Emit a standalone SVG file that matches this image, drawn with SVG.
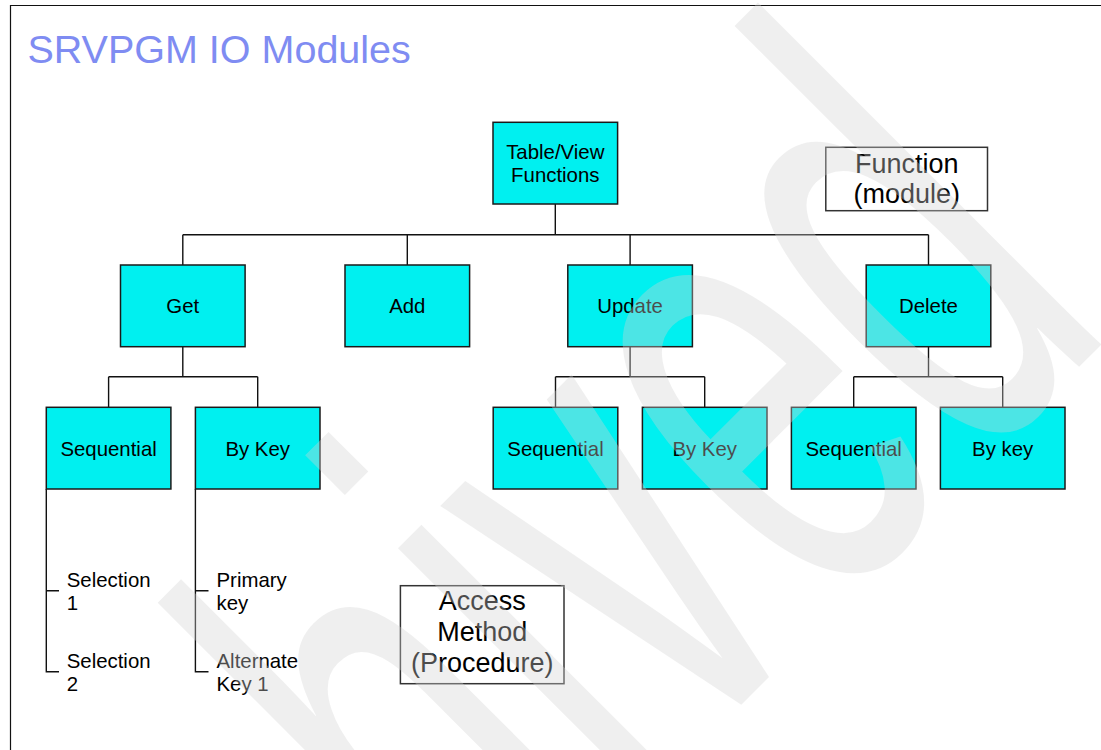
<svg xmlns="http://www.w3.org/2000/svg" width="1101" height="750" viewBox="0 0 1101 750">
<style>
text{font-family:"Liberation Sans",Arial,sans-serif;fill:#000}
.box{fill:#00f0f0;stroke:#1a1a1a;stroke-width:1.5}
.note{fill:#fff;stroke:#333;stroke-width:1.5}
.lbl{font-size:20.4px;text-anchor:middle}
.side{font-size:20.4px}
.big{font-size:27px;text-anchor:middle}
.conn{fill:none;stroke:#111;stroke-width:1.4}
.wm{font-size:669px;fill:#d4d4d4;fill-opacity:0.36}
</style>
<rect x="0" y="0" width="1101" height="750" fill="#fff"/>
<path d="M10.5,750 V5.5 H1101" fill="none" stroke="#111" stroke-width="1.2"/>
<text x="27.4" y="63.3" style="font-size:39.5px;fill:#7f8cf2">SRVPGM IO Modules</text>

<g id="connectors" class="conn">
<path d="M555.3,204 V234.7 M182.8,234.7 H928.5 M182.8,234.7 V265 M407.3,234.7 V265 M630.1,234.7 V265 M928.5,234.7 V265"/>
<path d="M182.8,346.7 V376.7 M108.6,376.7 H257.7 M108.6,376.7 V407.3 M257.7,376.7 V407.3"/>
<path d="M630.1,346.7 V376.7 M555.5,376.7 H704.7 M555.5,376.7 V407.3 M704.7,376.7 V407.3"/>
<path d="M928.5,346.7 V376.7 M853.7,376.7 H1002.7 M853.7,376.7 V407.3 M1002.7,376.7 V407.3"/>
<path d="M46.3,489 V671.7 H59 M46.3,590.7 H59"/>
<path d="M195.4,489 V671.7 H208.5 M195.4,590.7 H208.5"/>
</g>

<g id="table"><rect class="box" x="493" y="122.3" width="124.6" height="81.7"/><text class="lbl" x="555.3" y="159.3">Table/View</text><text class="lbl" x="555.3" y="181.7">Functions</text></g>
<g id="get"><rect class="box" x="120.5" y="265" width="124.6" height="81.7"/><text class="lbl" x="182.8" y="313.2">Get</text></g>
<g id="add"><rect class="box" x="345" y="265" width="124.6" height="81.7"/><text class="lbl" x="407.3" y="313.2">Add</text></g>
<g id="update"><rect class="box" x="567.8" y="265" width="124.6" height="81.7"/><text class="lbl" x="630.1" y="313.2">Update</text></g>
<g id="delete"><rect class="box" x="866.2" y="265" width="124.6" height="81.7"/><text class="lbl" x="928.5" y="313.2">Delete</text></g>
<g id="get-seq"><rect class="box" x="46.3" y="407.3" width="124.6" height="81.7"/><text class="lbl" x="108.6" y="455.5">Sequential</text></g>
<g id="get-bykey"><rect class="box" x="195.4" y="407.3" width="124.6" height="81.7"/><text class="lbl" x="257.7" y="455.5">By Key</text></g>
<g id="upd-seq"><rect class="box" x="493.2" y="407.3" width="124.6" height="81.7"/><text class="lbl" x="555.5" y="455.5">Sequential</text></g>
<g id="upd-bykey"><rect class="box" x="642.4" y="407.3" width="124.6" height="81.7"/><text class="lbl" x="704.7" y="455.5">By Key</text></g>
<g id="del-seq"><rect class="box" x="791.4" y="407.3" width="124.6" height="81.7"/><text class="lbl" x="853.7" y="455.5">Sequential</text></g>
<g id="del-bykey"><rect class="box" x="940.4" y="407.3" width="124.6" height="81.7"/><text class="lbl" x="1002.7" y="455.5">By key</text></g>

<g id="sel1"><text class="side" x="66.7" y="587.3">Selection</text><text class="side" x="66.7" y="610">1</text></g>
<g id="sel2"><text class="side" x="66.7" y="668.3">Selection</text><text class="side" x="66.7" y="691">2</text></g>
<g id="primary"><text class="side" x="216.5" y="587.3">Primary</text><text class="side" x="216.5" y="610">key</text></g>
<g id="alternate"><text class="side" x="216.5" y="668.3">Alternate</text><text class="side" x="216.5" y="691">Key 1</text></g>

<g id="function-note"><rect class="note" x="825.8" y="147.3" width="161.7" height="63.4"/><text class="big" x="906.7" y="173.3">Function</text><text class="big" x="906.7" y="202.7">(module)</text></g>
<g id="access-note"><rect class="note" x="400.4" y="585.7" width="163.6" height="98"/><text class="big" x="482.2" y="610">Access</text><text class="big" x="482.2" y="641">Method</text><text class="big" x="482.2" y="671.5">(Procedure)</text></g>

<text class="wm" transform="translate(82.5,1363.5) rotate(-45) scale(0.563,1)">Archived</text>
</svg>
